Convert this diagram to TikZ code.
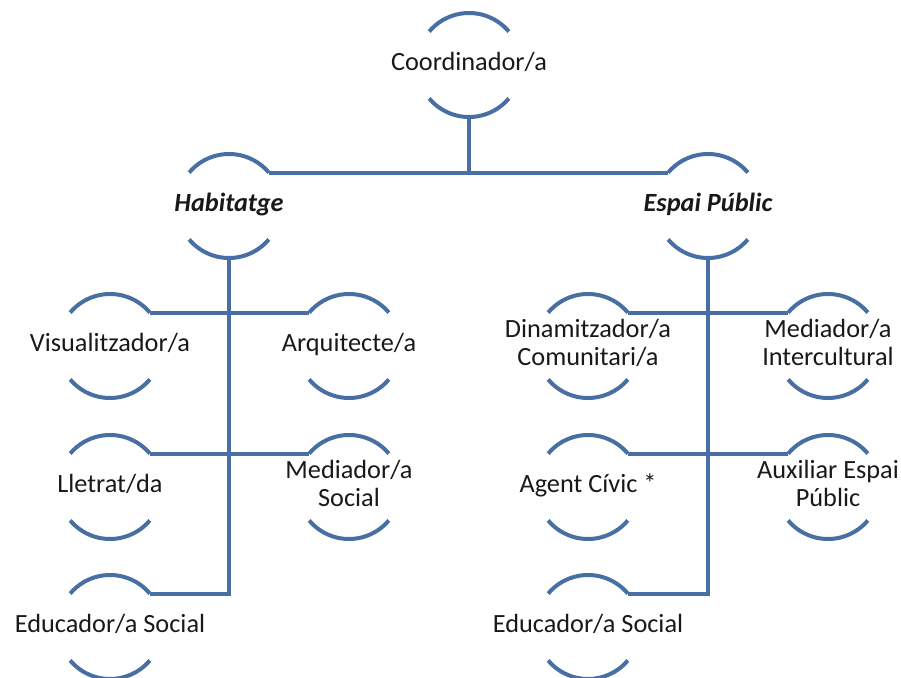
\documentclass[tikz,border=0pt]{standalone}
\usepackage{fontspec}
\setmainfont{Carlito}
\usepackage{tikz}
\usetikzlibrary{positioning}

\definecolor{orgblue}{RGB}{71,111,163}
\newcommand{\rolename}[1]{\makebox[0pt]{\begin{tabular}{@{}c@{}}#1\end{tabular}}}

\begin{document}
\begin{tikzpicture}
	[x=1pt, y=1pt, on grid,
	 role/.style={circle, minimum size=104pt, inner sep=0pt, outer sep=0pt,
	              font=\fontsize{26.3pt}{28.5pt}\selectfont, text=black!90},
	 unit/.style={role, font=\fontsize{26.3pt}{28.5pt}\selectfont\bfseries\itshape},
	 arcline/.style={draw=orgblue, line width=4pt},
	 link/.style={draw=orgblue, line width=4pt}]
   \useasboundingbox (0,0) rectangle (901,-677);
   \node[role] (coord) at (469,-65) {\rolename{Coordinador/a}};
   \node[unit] (hab) [below left=141pt and 240pt of coord] {\rolename{Habitatge}};
   \node[unit] (esp) [below right=141pt and 239pt of coord] {\rolename{Espai Públic}};
   % Habitatge
   \node[role] (vis) [below left=140pt and 119pt of hab] {\rolename{Visualitzador/a}};
   \node[role] (arq) [below right=140pt and 120pt of hab] {\rolename{Arquitecte/a}};
   \node[role] (llet) [below=141pt of vis] {\rolename{Lletrat/da}};
   \node[role] (medsoc) [below=141pt of arq] {\rolename{Mediador/a\\Social}};
   \node[role] (eduh) [below=140pt of llet] {\rolename{Educador/a Social}};
   % Espai Public
   \node[role] (dina) [below left=140pt and 120pt of esp] {\rolename{Dinamitzador/a\\Comunitari/a}};
   \node[role] (medint) [below right=140pt and 120pt of esp] {\rolename{Mediador/a\\Intercultural}};
   \node[role] (agent) [below=141pt of dina] {\rolename{Agent Cívic *}};
   \node[role] (aux) [below=141pt of medint] {\rolename{Auxiliar Espai\\Públic}};
   \node[role] (edue) [below=140pt of agent] {\rolename{Educador/a Social}};
   \foreach \n in {coord,hab,esp,vis,arq,llet,medsoc,eduh,dina,medint,agent,aux,edue} {
     \draw[arcline] (\n.40) arc[start angle=40, end angle=140, radius=52pt]
                    (\n.-140) arc[start angle=-140, end angle=-40, radius=52pt];
   }
   \draw[link] (coord.south) -- (coord.south |- hab.40);
   \draw[link] (hab.40) -- (esp.140);
   \draw[link] (hab.south) -- (hab.south |- eduh.40) -- (eduh.40);
   \draw[link] (vis.40) -- (arq.140);
   \draw[link] (llet.40) -- (medsoc.140);
   \draw[link] (esp.south) -- (esp.south |- edue.40) -- (edue.40);
   \draw[link] (dina.40) -- (medint.140);
   \draw[link] (agent.40) -- (aux.140);
\end{tikzpicture}
\end{document}
